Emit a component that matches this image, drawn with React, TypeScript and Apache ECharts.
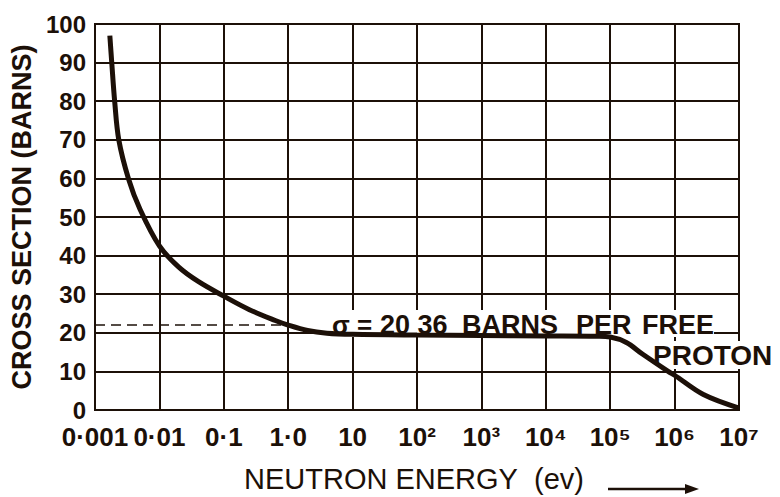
import React, { useEffect, useRef } from 'react';
import * as echarts from 'echarts';

const INK = '#1c1008';

// decade exponents shown on the x axis (-3 => 0·001 eV ... 7 => 10⁷ eV)
const xTickLabels = ['0·001', '0·01', '0·1', '1·0', '10', '10²', '10³', '10⁴', '10⁵', '10⁶', '10⁷'];
const energyEv = [0.0017, 0.00182, 0.00202, 0.00234, 0.0033, 0.005, 0.01, 0.02, 0.04, 0.1, 0.25, 0.63, 1.0, 2, 4, 10, 100, 1000, 1e4, 6.3e4, 1e5, 1.78e5, 3.16e5, 7.94e5, 1e6, 2.8e6, 1e7];
const crossSection = [97, 90, 80, 70, 60, 52, 42.5, 37, 33.3, 29.5, 26, 23.2, 22, 20.6, 19.9, 19.6, 19.4, 19.3, 19.2, 19.1, 18.9, 17.5, 14.5, 10, 9, 4, 0.5];
const dashedLevel = 22;
const dashedFrom = 0.001;
const dashedTo = 1.0;

export default function App() {
  const ref = useRef<HTMLDivElement>(null);
  useEffect(() => {
    const chart = echarts.init(ref.current!, null, { renderer: 'svg' });
    const font = 'Liberation Sans, Arial, Helvetica, sans-serif';
    const wordStyle = (text: string, size = 27) => ({
      text,
      font: `bold ${size}px ${font}`,
      fill: INK,
      verticalAlign: 'middle',
    });
    chart.setOption({
      animation: false,
      backgroundColor: '#ffffff',
      textStyle: { fontFamily: font },
      grid: {
        left: 95, right: 41, top: 24, bottom: 87,
        show: true, borderColor: INK, borderWidth: 2,
        outerBoundsMode: 'none',
      },
      xAxis: {
        type: 'value',
        min: -3,
        max: 7,
        interval: 1,
        axisLine: { show: true, lineStyle: { color: INK, width: 2 } },
        axisTick: { show: false },
        splitLine: { show: true, lineStyle: { color: INK, width: 2 } },
        axisLabel: {
          color: INK,
          fontSize: 26,
          fontWeight: 'bold',
          fontFamily: font,
          margin: 14,
          formatter: (v: number) => xTickLabels[Math.round(v) + 3] ?? '',
        },
      },
      yAxis: {
        type: 'value',
        min: 0,
        max: 100,
        interval: 10,
        name: 'CROSS SECTION (BARNS)',
        nameLocation: 'middle',
        nameGap: 58,
        nameTextStyle: { color: INK, fontSize: 27, fontWeight: 'bold', fontFamily: font },
        axisLine: { show: true, lineStyle: { color: INK, width: 2 } },
        axisTick: { show: false },
        splitLine: { show: true, lineStyle: { color: INK, width: 2 } },
        axisLabel: { color: INK, fontSize: 24, fontWeight: 'bold', fontFamily: font, margin: 9 },
      },
      series: [
        {
          type: 'line',
          data: energyEv.map((e, i) => [Math.log10(e), crossSection[i]]),
          smooth: 0.35,
          showSymbol: false,
          symbol: 'none',
          z: 3,
          lineStyle: { color: INK, width: 5 },
          markLine: {
            silent: true,
            symbol: ['none', 'none'],
            label: { show: false },
            lineStyle: { color: INK, width: 1.5, type: [10, 6] },
            data: [[
              { coord: [Math.log10(dashedFrom), dashedLevel] },
              { coord: [Math.log10(dashedTo), dashedLevel] },
            ]],
          },
        },
      ],
      graphic: [
        { type: 'rect', z: 1, shape: { x: 328, y: 310, width: 386, height: 27 }, style: { fill: '#ffffff' } },
        { type: 'rect', z: 1, shape: { x: 650, y: 341, width: 130, height: 28 }, style: { fill: '#ffffff' } },
        { type: 'text', z: 1, x: 332, y: 325, style: wordStyle('σ =', 26) },
        { type: 'text', z: 1, x: 380, y: 325, style: wordStyle('20 36') },
        { type: 'text', z: 1, x: 462, y: 325, style: wordStyle('BARNS') },
        { type: 'text', z: 1, x: 576, y: 325, style: wordStyle('PER') },
        { type: 'text', z: 1, x: 642, y: 325, style: wordStyle('FREE') },
        { type: 'text', z: 1, x: 653, y: 355, style: wordStyle('PROTON', 28) },
        {
          type: 'text',
          x: 244,
          y: 479,
          style: { text: 'NEUTRON ENERGY', font: `29px ${font}`, fill: INK, verticalAlign: 'middle' },
        },
        {
          type: 'text',
          x: 534,
          y: 479,
          style: { text: '(ev)', font: `29px ${font}`, fill: INK, verticalAlign: 'middle' },
        },
        {
          type: 'line',
          shape: { x1: 608, y1: 489, x2: 690, y2: 489 },
          style: { stroke: INK, lineWidth: 2.5 },
        },
        {
          type: 'polygon',
          shape: { points: [[685, 484], [699, 489], [685, 494]] },
          style: { fill: INK },
        },
      ],
    });
    return () => chart.dispose();
  }, []);
  return (
    <div
      ref={ref}
      style={{ position: 'fixed', left: 0, top: 0, width: 780, height: 497, background: '#fff' }}
    />
  );
}
